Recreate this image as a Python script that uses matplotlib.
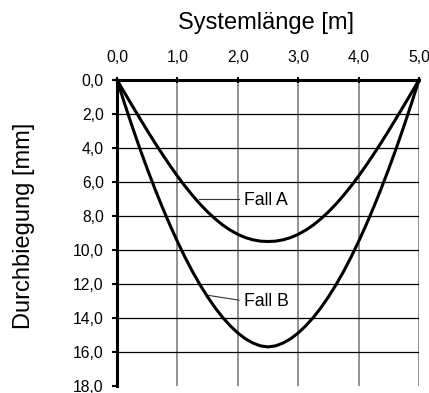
import matplotlib
matplotlib.use("Agg")
import matplotlib.pyplot as plt

plt.rcParams['font.family'] = ['Liberation Sans', 'DejaVu Sans']

# Werte
laenge = [0.0, 0.125, 0.25, 0.375, 0.5, 0.625, 0.75, 0.875, 1.0, 1.125, 1.25,
          1.375, 1.5, 1.625, 1.75, 1.875, 2.0, 2.125, 2.25, 2.375, 2.5,
          2.625, 2.75, 2.875, 3.0, 3.125, 3.25, 3.375, 3.5, 3.625, 3.75,
          3.875, 4.0, 4.125, 4.25, 4.375, 4.5, 4.625, 4.75, 4.875, 5.0]
fall_a = [0.0, 0.75, 1.5, 2.24, 2.97, 3.68, 4.36, 5.02, 5.65, 6.24, 6.79,
          7.3, 7.76, 8.17, 8.53, 8.83, 9.08, 9.27, 9.4, 9.48, 9.5,
          9.48, 9.4, 9.27, 9.08, 8.83, 8.53, 8.17, 7.76, 7.3, 6.79,
          6.24, 5.65, 5.02, 4.36, 3.68, 2.97, 2.24, 1.5, 0.75, 0.0]
fall_b = [0.0, 1.38, 2.72, 4.0, 5.22, 6.38, 7.48, 8.52, 9.5, 10.42, 11.27,
          12.05, 12.76, 13.4, 13.97, 14.46, 14.88, 15.22, 15.47, 15.64, 15.7,
          15.64, 15.47, 15.22, 14.88, 14.46, 13.97, 13.4, 12.76, 12.05, 11.27,
          10.42, 9.5, 8.52, 7.48, 6.38, 5.22, 4.0, 2.72, 1.38, 0.0]

x_ticks = [0.0, 1.0, 2.0, 3.0, 4.0, 5.0]
x_labels = ["0,0", "1,0", "2,0", "3,0", "4,0", "5,0"]
y_ticks = [0, 2, 4, 6, 8, 10, 12, 14, 16, 18]
y_labels = ["0,0", "2,0", "4,0", "6,0", "8,0", "10,0", "12,0", "14,0", "16,0", "18,0"]

fig = plt.figure(figsize=(4.29, 3.93), dpi=100)
ax = fig.add_axes([117 / 429, 1 - 386 / 393, 302 / 429, 306 / 393])

# Gitter
for xv in x_ticks[1:]:
    ax.axvline(xv, color="#7f7f7f", lw=1.2, zorder=1)
for yv in y_ticks[1:-1]:
    ax.axhline(yv, color="black", lw=0.9, zorder=1)

ax.plot(laenge, fall_a, color="black", lw=2.2, zorder=3, clip_on=False)
ax.plot(laenge, fall_b, color="black", lw=2.2, zorder=3, clip_on=False)

# Beschriftungen der Kurven
ax.plot([1.35, 2.02], [7.0, 7.0], color="#333333", lw=0.8, zorder=2)
ax.text(2.1, 7.1, "Fall A", fontsize=12.7, va="center", ha="left")
ax.plot([1.48, 2.02], [12.65, 12.95], color="#333333", lw=0.8, zorder=2)
ax.text(2.1, 13.0, "Fall B", fontsize=12.7, va="center", ha="left")

ax.set_xlim(0, 5)
ax.set_ylim(18, 0)

ax.xaxis.tick_top()
ax.xaxis.set_label_position("top")
ax.set_xticks(x_ticks)
ax.set_xticklabels(x_labels)
ax.set_yticks(y_ticks)
ax.set_yticklabels(y_labels)
ax.tick_params(axis="x", direction="inout", length=5, width=1.5, pad=8.5, labelsize=11.3)
ax.tick_params(axis="y", direction="out", length=3.5, width=1.5, pad=6, labelsize=11.3)

for s in ["bottom", "right"]:
    ax.spines[s].set_visible(False)
ax.spines["top"].set_linewidth(2.2)
ax.spines["left"].set_linewidth(2.2)
ax.spines["top"].set_zorder(4)

ax.set_xlabel("Systemlänge [m]", fontsize=17, labelpad=15, x=0.492)
ax.set_ylabel("Durchbiegung [mm]", fontsize=17, labelpad=27, y=0.523)

fig.savefig("out.png", dpi=100)
